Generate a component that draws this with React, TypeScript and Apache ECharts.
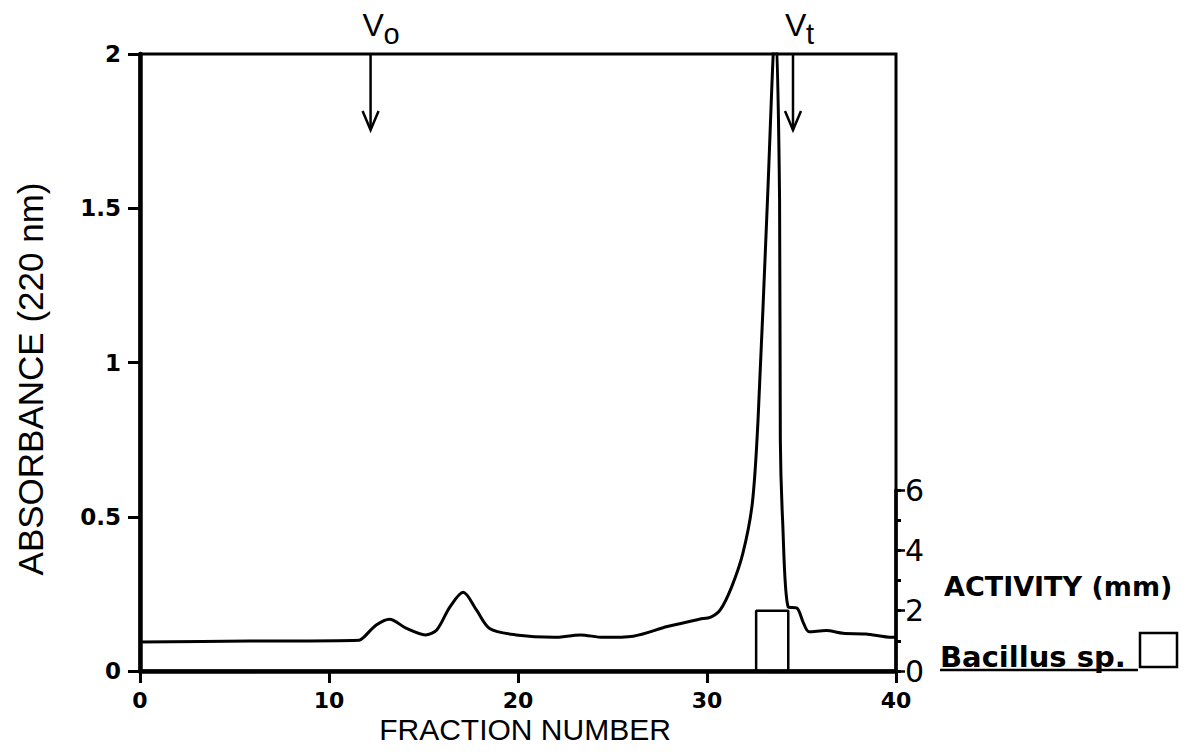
import React, { useEffect, useRef } from 'react';
import * as echarts from 'echarts';

// Absorbance (220 nm) trace
const fractions = [0, 5.8, 11.6, 11.8, 12.5, 13.2, 14.1, 15.1, 15.7, 16.4, 17.1, 17.8, 18.5, 19.9, 21.9, 23.3, 24.5, 26.1, 27.9, 29.6, 30.2, 30.7, 31.3, 31.9, 32.4, 32.7, 33.2, 33.62, 33.84, 33.88, 34.0, 34.3, 34.75, 35.1, 35.4, 36.3, 37.2, 38.4, 39.8, 40];
const absorbance = [0.094, 0.097, 0.1, 0.107, 0.149, 0.168, 0.138, 0.117, 0.133, 0.208, 0.255, 0.198, 0.138, 0.117, 0.109, 0.117, 0.109, 0.113, 0.144, 0.168, 0.175, 0.198, 0.272, 0.382, 0.545, 0.814, 1.527, 2.1, 1.527, 0.749, 0.489, 0.207, 0.204, 0.156, 0.127, 0.131, 0.122, 0.12, 0.109, 0.109];

// Activity (mm) of Bacillus sp. — one block over fractions
const activityEdges = [32.6, 34.3];
const activityValue = 2;

// Axis ticks
const xTickInterval = 10;
const absorbanceTickInterval = 0.5;
const activityTickInterval = 2;
const activityMinorInterval = 1;

// Column markers (void volume / total volume)
const markerFractions = [12.2, 34.55];
const markerMain = ['V', 'V'];
const markerSub = ['o', 't'];

const FONT = '"Liberation Sans", Arial, Helvetica, sans-serif';
const DJ = '"DejaVu Sans", sans-serif';

export default function App() {
  const ref = useRef<HTMLDivElement>(null);

  useEffect(() => {
    const chart = echarts.init(ref.current!, null, { renderer: 'svg' });
    const absData = fractions.map((f, i) => [f, absorbance[i]]);
    const actData = [
      [activityEdges[0], 0],
      [activityEdges[0], activityValue],
      [activityEdges[1], activityValue],
      [activityEdges[1], 0],
    ];

    chart.setOption({
      animation: false,
      backgroundColor: '#ffffff',
      textStyle: { fontFamily: FONT, color: '#000' },
      grid: [
        { left: 140, top: 54, width: 756, height: 617, show: true, borderColor: '#000', borderWidth: 3, backgroundColor: 'transparent' },
        { left: 140, top: 490, width: 756, height: 181, show: false },
      ],
      xAxis: [
        {
          type: 'value', gridIndex: 0, min: 0, max: 40, interval: xTickInterval,
          axisLine: { show: true, onZero: false, lineStyle: { color: '#000', width: 4.5 } },
          axisTick: { show: true, inside: false, length: 12, lineStyle: { color: '#000', width: 3 } },
          axisLabel: { color: '#000', fontSize: 22, fontWeight: 'bold', fontFamily: DJ, margin: 18 },
          splitLine: { show: false },
        },
        {
          type: 'value', gridIndex: 1, min: 0, max: 40, show: false,
          axisLine: { show: false, onZero: false },
        },
      ],
      yAxis: [
        {
          type: 'value', gridIndex: 0, min: 0, max: 2, interval: absorbanceTickInterval,
          axisLine: { show: true, onZero: false, lineStyle: { color: '#000', width: 4.5 } },
          axisTick: { show: true, inside: false, length: 12, lineStyle: { color: '#000', width: 3 } },
          axisLabel: { color: '#000', fontSize: 23, fontWeight: 'bold', fontFamily: DJ, margin: 19 },
          splitLine: { show: false },
        },
        {
          type: 'value', gridIndex: 1, position: 'right', offset: 0, min: 0, max: 6, interval: activityTickInterval,
          axisLine: { show: true, onZero: false, lineStyle: { color: '#000', width: 3.5 } },
          axisTick: { show: true, inside: false, length: 9, lineStyle: { color: '#000', width: 2.5 } },
          axisLabel: { color: '#000', fontSize: 30, fontFamily: DJ, margin: 9 },
          splitLine: { show: false },
        },
        {
          type: 'value', gridIndex: 1, position: 'right', offset: 0, min: 0, max: 6, interval: activityMinorInterval,
          axisLine: { show: false, onZero: false },
          axisTick: { show: true, inside: false, length: 5, lineStyle: { color: '#000', width: 3 } },
          axisLabel: { show: false },
          splitLine: { show: false },
        },
      ],
      series: [
        {
          type: 'line', xAxisIndex: 0, yAxisIndex: 0, data: absData,
          showSymbol: false, smooth: 0.3, clip: true,
          lineStyle: { color: '#000', width: 3 },
        },
        {
          type: 'line', xAxisIndex: 1, yAxisIndex: 1, data: actData,
          showSymbol: false, smooth: false,
          lineStyle: { color: '#000', width: 2.5 },
        },
      ],
    });

    const graphics: any[] = [
      {
        type: 'text', x: 30, y: 379, rotation: Math.PI / 2,
        style: { text: 'ABSORBANCE (220 nm)', fontSize: 35, fontFamily: FONT, fill: '#000', align: 'center', verticalAlign: 'middle' },
      },
      {
        type: 'text', x: 525, y: 729,
        style: { text: 'FRACTION NUMBER', fontSize: 30, fontFamily: FONT, fill: '#000', align: 'center', verticalAlign: 'middle' },
      },
      {
        type: 'text', x: 944, y: 586,
        style: { text: 'ACTIVITY (mm)', fontSize: 27, fontWeight: 'bold', fontFamily: DJ, fill: '#000', align: 'left', verticalAlign: 'middle' },
      },
      {
        type: 'text', x: 940, y: 657,
        style: { text: 'Bacillus sp.', fontSize: 29, fontWeight: 'bold', fontFamily: DJ, fill: '#000', align: 'left', verticalAlign: 'middle' },
      },
      {
        type: 'line', shape: { x1: 940, y1: 670, x2: 1138, y2: 670 },
        style: { stroke: '#000', lineWidth: 2.5 },
      },
      {
        type: 'rect', shape: { x: 1140, y: 633, width: 37, height: 34 },
        style: { stroke: '#000', lineWidth: 2.5, fill: 'none' },
      },
    ];

    markerFractions.forEach((f, i) => {
      const p = chart.convertToPixel({ gridIndex: 0 }, [f, 2]) as number[];
      const px = p[0];
      const top = p[1];
      graphics.push({
        type: 'line', shape: { x1: px, y1: top, x2: px, y2: top + 76 },
        style: { stroke: '#000', lineWidth: 2.5 },
      });
      graphics.push({
        type: 'polyline', shape: { points: [[px - 8, top + 57], [px, top + 76], [px + 8, top + 57]] },
        style: { stroke: '#000', lineWidth: 2.5, fill: 'none' },
      });
      graphics.push({
        type: 'text', x: px - 8, y: 25,
        style: { text: markerMain[i], fontSize: 32, fontFamily: FONT, fill: '#000', align: 'left', verticalAlign: 'middle' },
      });
      graphics.push({
        type: 'text', x: px + 13, y: 34,
        style: { text: markerSub[i], fontSize: 29, fontFamily: FONT, fill: '#000', align: 'left', verticalAlign: 'middle' },
      });
    });

    chart.setOption({ graphic: graphics });

    return () => chart.dispose();
  }, []);

  return (
    <div
      ref={ref}
      style={{ position: 'absolute', left: 0, top: 0, width: 1186, height: 756, background: '#fff' }}
    />
  );
}
